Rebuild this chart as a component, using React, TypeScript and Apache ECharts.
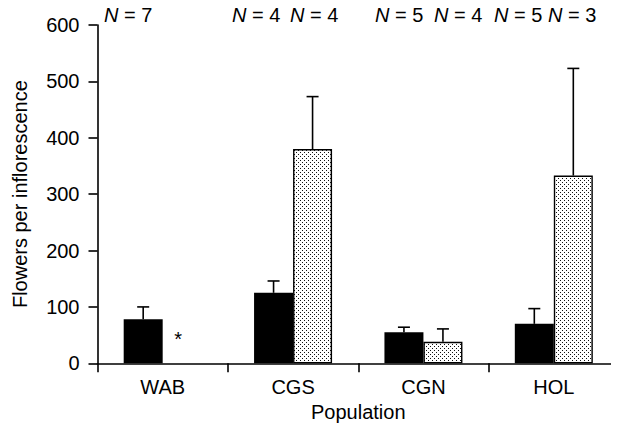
import React, { useEffect, useRef } from 'react';
import * as echarts from 'echarts';

const categories = ['WAB', 'CGS', 'CGN', 'HOL'];
const blackMeans = [78, 125, 55, 70];
const blackErrors = [22, 21, 9, 27];
const dottedMeans = [0, 380, 38, 333];
const dottedErrors = [0, 93, 23, 190];
const dottedMissing = [true, false, false, false];
const yTickMin = 0;
const yTickMax = 600;
const yTickStep = 100;
const nLabels = ['7', '4', '4', '5', '4', '5', '3'];

const FONT = 'Liberation Sans, Arial, Helvetica, sans-serif';
const FS = 20;
const BAR_W = 39;

function makePattern(): string {
  const c = document.createElement('canvas');
  c.width = 4;
  c.height = 4;
  const ctx = c.getContext('2d')!;
  ctx.fillStyle = '#ffffff';
  ctx.fillRect(0, 0, 4, 4);
  ctx.fillStyle = '#111111';
  ctx.fillRect(0, 0, 1, 1);
  ctx.fillRect(2, 2, 1, 1);
  return c.toDataURL();
}

function errorSeries(means: number[], errs: number[], dx: number, skip: boolean[]) {
  return {
    type: 'custom',
    z: 5,
    data: means.map((m, i) => [i, m, errs[i], skip[i] ? 1 : 0]),
    renderItem: (params: any, api: any) => {
      if (api.value(3) === 1) return null;
      const i = api.value(0);
      const m = api.value(1);
      const e = api.value(2);
      const p0 = api.coord([i, m]);
      const p1 = api.coord([i, m + e]);
      const x = p0[0] + dx;
      const style = { stroke: '#000', lineWidth: 1.6 };
      return {
        type: 'group',
        children: [
          { type: 'line', shape: { x1: x, y1: p0[1], x2: x, y2: p1[1] }, style },
          { type: 'line', shape: { x1: x - 6, y1: p1[1], x2: x + 6, y2: p1[1] }, style },
        ],
      };
    },
  };
}

export default function App() {
  const ref = useRef<HTMLDivElement>(null);
  useEffect(() => {
    if (!ref.current) return;
    const chart = echarts.init(ref.current, null, { renderer: 'svg' });
    const pattern = makePattern();
    const nX = [104, 232, 290, 375, 434, 494, 548];
    chart.setOption({
      animation: false,
      backgroundColor: '#fff',
      grid: { left: 97.5, top: 25, width: 526, height: 338.3 },
      xAxis: {
        type: 'category',
        data: categories,
        name: 'Population',
        nameLocation: 'middle',
        nameGap: 39,
        nameMoveOverlap: false,
        nameTextStyle: { fontFamily: FONT, fontSize: FS, color: '#000' },
        axisLine: { lineStyle: { color: '#000', width: 1.6 } },
        axisTick: { show: true, length: 9, lineStyle: { color: '#000', width: 1.6 } },
        axisLabel: { fontFamily: FONT, fontSize: FS, color: '#000', margin: 14 },
      },
      yAxis: {
        type: 'value',
        min: yTickMin,
        max: yTickMax,
        interval: yTickStep,
        name: 'Flowers per inflorescence',
        nameLocation: 'middle',
        nameGap: 68,
        nameRotate: 90,
        nameMoveOverlap: false,
        nameTextStyle: { fontFamily: FONT, fontSize: FS, color: '#000' },
        splitLine: { show: false },
        axisLine: { show: true, lineStyle: { color: '#000', width: 1.6 } },
        axisTick: { show: true, length: 9, lineStyle: { color: '#000', width: 1.6 } },
        axisLabel: { fontFamily: FONT, fontSize: FS, color: '#000', margin: 18 },
      },
      series: [
        {
          type: 'bar',
          data: blackMeans,
          barWidth: BAR_W,
          barGap: '0%',
          itemStyle: { color: '#000' },
        },
        {
          type: 'bar',
          data: dottedMeans.map((v, i) =>
            dottedMissing[i]
              ? {
                  value: v,
                  itemStyle: { borderWidth: 0, color: 'rgba(0,0,0,0)' },
                  label: {
                    show: true,
                    position: 'top',
                    distance: 14,
                    offset: [-4, 0],
                    formatter: '*',
                    fontFamily: FONT,
                    fontSize: FS,
                    color: '#000',
                  },
                }
              : v
          ),
          barWidth: BAR_W,
          barGap: '0%',
          itemStyle: {
            color: { image: pattern, repeat: 'repeat' },
            borderColor: '#000',
            borderWidth: 1.4,
          },
        },
        errorSeries(blackMeans, blackErrors, -BAR_W / 2, [false, false, false, false]),
        errorSeries(dottedMeans, dottedErrors, BAR_W / 2, dottedMissing),
      ],
      graphic: nLabels.map((n, k) => ({
        type: 'text',
        left: nX[k],
        top: 5,
        style: {
          text: '{i|N} = ' + n,
          rich: { i: { fontStyle: 'italic', fontFamily: FONT, fontSize: FS, fill: '#000' } },
          fontFamily: FONT,
          fontSize: FS,
          fill: '#000',
        },
      })),
    });
    return () => chart.dispose();
  }, []);
  return <div ref={ref} style={{ width: 619, height: 432, margin: -8 }} />;
}
